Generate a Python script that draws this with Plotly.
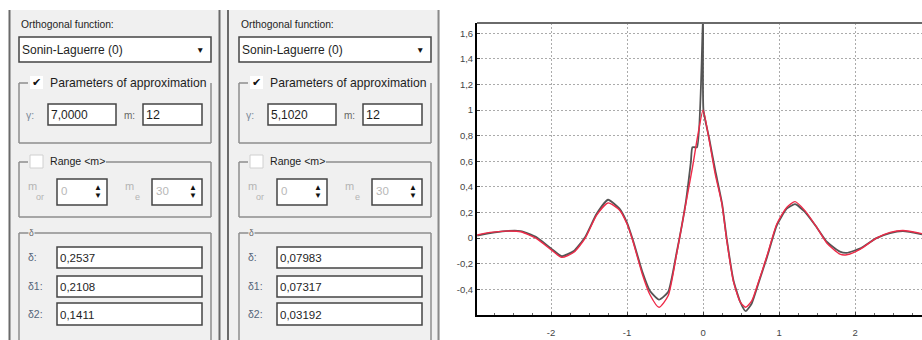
import plotly.graph_objects as go

# ---------------- data ----------------
x_orig = [-2.97, -2.8, -2.6, -2.4, -2.2, -2.0, -1.86, -1.7, -1.55, -1.4, -1.25, -1.1, -1.0,
          -0.92, -0.8, -0.7, -0.58, -0.46, -0.35, -0.23, -0.19, -0.16, -0.14, -0.08, 0.0,
          0.005, 0.08, 0.16, 0.25, 0.31, 0.4, 0.49, 0.56, 0.64, 0.73, 0.84, 0.97, 1.1, 1.21,
          1.34, 1.5, 1.63, 1.8, 1.89, 2.07, 2.28, 2.46, 2.63, 2.88]
y_orig = [0.02, 0.04, 0.055, 0.055, 0.01, -0.08, -0.14, -0.10, 0.01, 0.19, 0.30, 0.23, 0.12,
          -0.02, -0.26, -0.41, -0.48, -0.42, -0.12, 0.27, 0.45, 0.60, 0.71, 0.71, 1.75,
          1.0, 0.78, 0.53, 0.27, 0.0, -0.33, -0.50, -0.57, -0.51, -0.35, -0.15, 0.10, 0.23, 0.265,
          0.205, 0.08, -0.03, -0.105, -0.115, -0.08, 0.0, 0.04, 0.055, 0.03]

x_appr = [-2.97, -2.8, -2.6, -2.4, -2.2, -2.0, -1.86, -1.7, -1.55, -1.4, -1.25, -1.1, -1.0,
          -0.92, -0.8, -0.7, -0.58, -0.46, -0.35, -0.23, -0.14, -0.07, 0.0, 0.07, 0.16, 0.25,
          0.31, 0.4, 0.49, 0.56, 0.64, 0.73, 0.84, 0.97, 1.1, 1.21, 1.34, 1.5, 1.63, 1.8, 1.89,
          2.07, 2.28, 2.46, 2.63, 2.88]
y_appr = [0.025, 0.045, 0.055, 0.05, 0.0, -0.09, -0.15, -0.11, 0.0, 0.18, 0.275, 0.22, 0.11,
          -0.03, -0.28, -0.44, -0.54, -0.45, -0.13, 0.26, 0.55, 0.80, 1.0, 0.80, 0.50, 0.26,
          -0.01, -0.34, -0.50, -0.54, -0.49, -0.34, -0.14, 0.11, 0.24, 0.285, 0.215, 0.08, -0.04,
          -0.125, -0.13, -0.085, 0.0, 0.045, 0.06, 0.035]

x_tick_vals = [-2, -1, 0, 1, 2]
x_tick_text = ["-2", "-1", "0", "1", "2"]
y_tick_vals = [1.6, 1.4, 1.2, 1.0, 0.8, 0.6, 0.4, 0.2, 0.0, -0.2, -0.4]
y_tick_text = ["1,6", "1,4", "1,2", "1", "0,8", "0,6", "0,4", "0,2", "0", "-0,2", "-0,4"]

function_names = ["Sonin-Laguerre (0)", "Sonin-Laguerre (0)"]
gamma_values = ["7,0000", "5,1020"]
m_values = ["12", "12"]
range_or = ["0", "0"]
range_e = ["30", "30"]
delta_labels = ["δ:", "δ1:", "δ2:"]
delta_values = [["0,2537", "0,2108", "0,1411"], ["0,07983", "0,07317", "0,03192"]]

# ---------------- helpers for GUI chrome (pixel -> paper) ----------------
W, H = 922, 340
shapes = []
annots = []
GUI_FONT = "Liberation Sans"


def rect(x0, y0, x1, y1, fill=None, line=None, lw=1.0):
    d = dict(type="rect", xref="paper", yref="paper", x0=x0 / W, x1=x1 / W,
             y0=1 - y1 / H, y1=1 - y0 / H, layer="above")
    d["fillcolor"] = fill if fill else "rgba(0,0,0,0)"
    d["line"] = dict(color=line, width=lw) if line else dict(width=0)
    shapes.append(d)


def seg(x0, y0, x1, y1, color, lw=1.0):
    shapes.append(dict(type="line", xref="paper", yref="paper", x0=x0 / W, x1=x1 / W,
                       y0=1 - y0 / H, y1=1 - y1 / H, line=dict(color=color, width=lw),
                       layer="above"))


def text(x, y, s, size=11.5, color="#1e1e1e", anchor="left", bg=None):
    a = dict(xref="paper", yref="paper", x=x / W, y=1 - y / H, text=s, showarrow=False,
             xanchor=anchor, yanchor="middle", font=dict(family=GUI_FONT, size=size, color=color),
             borderpad=0)
    if bg:
        a["bgcolor"] = bg
    annots.append(a)


PANEL_BG = "#f0f0f0"
GROUP = "#8e8e8e"
BOX = "#444444"

rect(9, 10, 440, 340, fill=PANEL_BG)
seg(9.5, 10, 9.5, 340, "#6a6a6a", 2)
seg(219.5, 10, 219.5, 340, "#6a6a6a", 2)
seg(228, 10, 228, 340, "#6a6a6a", 2)
seg(438.5, 10, 438.5, 340, "#8a8a8a", 2)


def panel(i, ox):
    text(20 + ox, 25, "Orthogonal function:", 10.3)
    rect(19 + ox, 37, 211 + ox, 62, fill="white", line=BOX, lw=1.5)
    text(21 + ox, 50, function_names[i], 12)
    text(200 + ox, 50, "▼", 8.5, "#111", anchor="center")
    # group: parameters
    seg(19 + ox, 83, 28 + ox, 83, GROUP, 1.5)
    seg(19 + ox, 83, 19 + ox, 143, GROUP, 1.5)
    seg(19 + ox, 143, 211 + ox, 143, GROUP, 1.5)
    seg(211 + ox, 83, 211 + ox, 143, GROUP, 1.5)
    rect(30 + ox, 76, 43 + ox, 89, fill="white")
    text(36.5 + ox, 82, "✔", 11, "#111", anchor="center")
    text(49 + ox, 83, "Parameters of approximation", 12.2)
    text(25 + ox, 115, "γ:", 10.5, "#7f8c9b")
    rect(48 + ox, 104, 116 + ox, 125, fill="white", line=BOX, lw=1.5)
    text(50 + ox, 115, gamma_values[i], 12)
    text(123 + ox, 115, "m:", 10, "#666")
    rect(143 + ox, 104, 202 + ox, 125, fill="white", line=BOX, lw=1.5)
    text(145 + ox, 115, m_values[i], 12.5)
    # group: range
    seg(19 + ox, 162, 28 + ox, 162, GROUP, 1.5)
    seg(106 + ox, 162, 211 + ox, 162, GROUP, 1.5)
    seg(19 + ox, 162, 19 + ox, 217, GROUP, 1.5)
    seg(19 + ox, 217, 211 + ox, 217, GROUP, 1.5)
    seg(211 + ox, 162, 211 + ox, 217, GROUP, 1.5)
    rect(30 + ox, 155, 43 + ox, 168, fill="white", line="#d0d0d0", lw=1)
    text(49 + ox, 161, "Range &lt;m&gt;", 10.6)
    text(27 + ox, 186, "m", 11, "#b4b4b4")
    text(35 + ox, 197, "or", 9, "#b4b4b4")
    rect(57 + ox, 179, 107 + ox, 205, fill="white", line=BOX, lw=1.5)
    text(60 + ox, 191, range_or[i], 11.5, "#b8b8b8")
    text(98 + ox, 187, "▲", 8, "#111", anchor="center")
    text(98 + ox, 196, "▼", 8, "#111", anchor="center")
    text(124 + ox, 186, "m", 11, "#b4b4b4")
    text(134 + ox, 197, "e", 9, "#b4b4b4")
    rect(152 + ox, 179, 202 + ox, 205, fill="white", line=BOX, lw=1.5)
    text(155 + ox, 191, range_e[i], 11.5, "#b8b8b8")
    text(193 + ox, 187, "▲", 8, "#111", anchor="center")
    text(193 + ox, 196, "▼", 8, "#111", anchor="center")
    # group: delta
    seg(19 + ox, 233, 211 + ox, 233, GROUP, 1.5)
    seg(19 + ox, 233, 19 + ox, 345, GROUP, 1.5)
    seg(211 + ox, 233, 211 + ox, 345, GROUP, 1.5)
    text(31 + ox, 233, "δ", 8.5, "#6a6a6a", anchor="center", bg=PANEL_BG)
    ys = [(247, 268, 257), (276, 297, 286), (303, 325, 314)]
    for k, (y0, y1, yc) in enumerate(ys):
        text(27 + ox, yc, delta_labels[k], 10.5, "#55657a")
        rect(57 + ox, y0, 202 + ox, y1, fill="white", line=BOX, lw=1.5)
        text(59 + ox, (y0 + y1) / 2 + 0.5, delta_values[i][k], 11.5)


panel(0, 0)
panel(1, 220)

# ---------------- chart ----------------
fig = go.Figure()
fig.add_trace(go.Scatter(x=x_orig, y=y_orig, mode="lines",
                         line=dict(color="#555555", width=1.8, shape="spline", smoothing=0.5),
                         hoverinfo="skip"))
fig.add_trace(go.Scatter(x=x_appr, y=y_appr, mode="lines",
                         line=dict(color="#ee2a48", width=1.4, shape="spline", smoothing=0.6),
                         hoverinfo="skip"))

shapes.append(dict(type="line", xref="x domain", yref="y domain", x0=0, x1=1, y0=1, y1=1,
                   line=dict(color="#6a6a6a", width=2)))

fig.update_layout(
    width=W, height=H, margin=dict(l=0, r=0, t=0, b=0),
    paper_bgcolor="white", plot_bgcolor="white", showlegend=False,
    shapes=shapes, annotations=annots,
    xaxis=dict(domain=[477 / W, 1], range=[-2.974, 2.88], tickmode="array",
               tickvals=x_tick_vals, ticktext=x_tick_text, showgrid=True,
               gridcolor="#ababab", griddash="2px,2px", gridwidth=1, zeroline=False,
               showline=True, linecolor="black", linewidth=2, ticks="inside", ticklen=3,
               tickcolor="#444", ticklabelstandoff=8,
               tickfont=dict(family="Liberation Sans", size=9.5, color="#444"),
               minor=dict(tickmode="linear", tick0=0, dtick=0.25, ticks="inside",
                          ticklen=2, tickcolor="#666", showgrid=False)),
    yaxis=dict(domain=[25 / H, 317 / H], range=[-0.60, 1.68], tickmode="array",
               tickvals=y_tick_vals, ticktext=y_tick_text, showgrid=True,
               gridcolor="#ababab", griddash="2px,2px", gridwidth=1, zeroline=False,
               showline=True, linecolor="black", linewidth=2, ticks="inside", ticklen=3,
               tickcolor="#444",
               tickfont=dict(family="Liberation Sans", size=9.5, color="#444")),
)

fig.write_html("out.html")
